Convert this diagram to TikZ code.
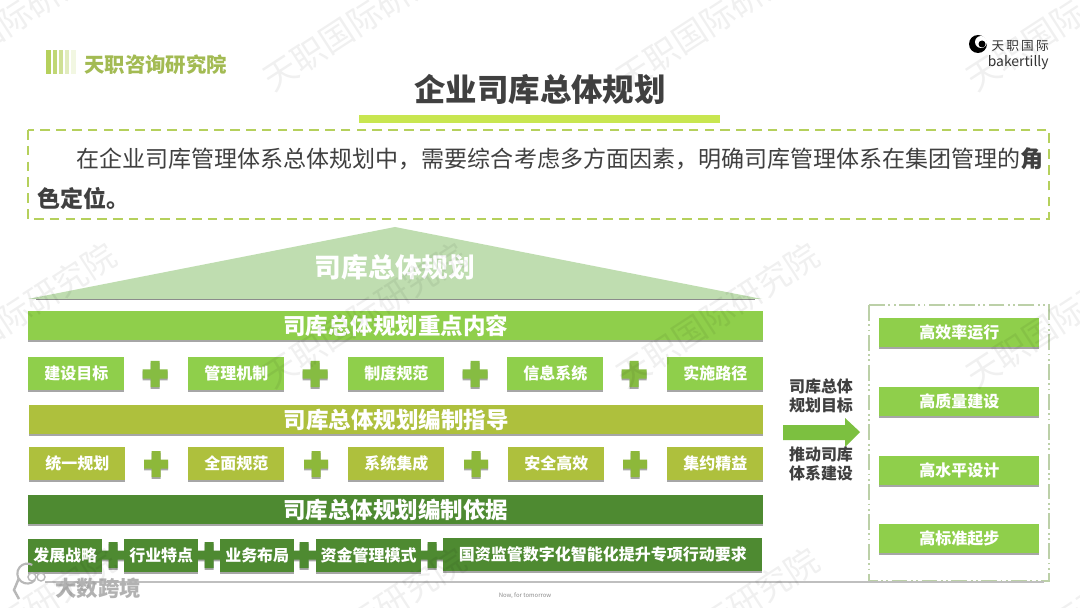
\documentclass[tikz,border=0pt]{standalone}
\usepackage{fontspec}
\setmainfont{Noto Sans CJK SC}
\usetikzlibrary{shadows}

\definecolor{barlight}{HTML}{8FCF4B}
\definecolor{barolive}{HTML}{AEC03D}
\definecolor{bardark}{HTML}{4E8A31}
\definecolor{pluslight}{HTML}{86BC42}
\definecolor{plusolive}{HTML}{8DB83A}
\definecolor{roofgreen}{HTML}{BFDDB0}
\definecolor{inktext}{HTML}{404040}
\definecolor{dashlime}{HTML}{B5D05C}
\definecolor{rulelime}{HTML}{C8E650}
\definecolor{arrowgreen}{HTML}{7CC040}
\definecolor{paneledge}{HTML}{BCD0A8}

\tikzset{
  softshadow/.style={drop shadow={shadow xshift=0pt,shadow yshift=-1.1pt,fill=black,opacity=.35}},
  bandbox/.style={softshadow,minimum height=16.5pt,inner sep=0pt,text=white,font=\fontsize{12.8}{14}\selectfont\bfseries},
  itembox/.style={softshadow,minimum height=18.5pt,inner sep=0pt,text=white,font=\fontsize{9.1}{11}\selectfont\bfseries},
  goalbox/.style={softshadow,fill=barlight,minimum width=91pt,minimum height=16.5pt,inner sep=0pt,text=white,font=\fontsize{9.1}{11}\selectfont\bfseries},
  sidelabel/.style={align=center,text=inktext,font=\fontsize{9.1}{10.9}\selectfont\bfseries},
  watermark/.style={rotate=33,text=black,opacity=.06,font=\fontsize{19}{21}\selectfont}
}

% plus sign: x, y, half size x, half size y, half arm, colour
\newcommand{\plusmark}[6]{
  \path[fill=#6,softshadow,shift={(#1,#2)}] (-#5,-#4) -- (#5,-#4) -- (#5,-#5) -- (#3,-#5) -- (#3,#5) -- (#5,#5)
    -- (#5,#4) -- (-#5,#4) -- (-#5,#5) -- (-#3,#5) -- (-#3,-#5) -- (-#5,-#5) -- cycle;
}

\begin{document}
\begin{tikzpicture}[x=0.02cm,y=-0.02cm]

\useasboundingbox (0,0) rectangle (1080,608);
\clip (0,0) rectangle (1080,608);
\fill[white] (0,0) rectangle (1080,608);

% Header, left mark
\fill[dashlime] (46,50) rectangle (51,74);
\fill[dashlime!85] (53,50) rectangle (57,74);
\fill[dashlime!65] (59,50) rectangle (63,74);
\fill[dashlime!40] (65,50) rectangle (69,74);
\fill[dashlime!18] (71,50) rectangle (76,74);
\node[anchor=west,inner sep=0pt,text=dashlime!90!black,font=\fontsize{11.6}{13}\selectfont\bfseries] (brandname) at (84,65) {天职咨询研究院};

% Header, right mark
\fill[black] (978,44) circle (9);
\fill[white] (981,42) circle (6);
\fill[black] (982,44) circle (3.5);
\node[anchor=east,inner sep=0pt,text=black!80,font=\fontsize{7.2}{9}\selectfont] (firmname) at (1049,46) {天\,职\,国\,际};
\node[anchor=east,inner sep=0pt,text=black!80,font=\fontsize{7.9}{10}\selectfont] (firmlatin) at (1049,63) {bakertilly};

% Title and rule
\node[inner sep=0pt,text=inktext,font=\fontsize{17.9}{20}\selectfont\bfseries] (title) at (540,89) {企业司库总体规划};
\fill[rulelime] (359,115) rectangle (720,123);

% Intro box
\draw[dashlime,line width=1pt,dash pattern=on 5.5pt off 3.5pt] (28,130) rectangle (1049,219);
\node[anchor=north west,inner sep=0pt,align=left,text=inktext,font=\fontsize{13.1}{23.1}\selectfont] (intro) at (37,147)
  {\hspace*{22.4pt}在企业司库管理体系总体规划中，需要综合考虑多方面因素，明确司库管理体系在集团管理的\textbf{角}\\\textbf{色定位。}};

% Roof
\fill[roofgreen] (395,227) -- (762,299) -- (28,299) -- cycle;
\draw[black!45,line width=.8pt] (36,299.5) -- (755,299.5);
\node[inner sep=0pt,text=white,font=\fontsize{15.2}{17}\selectfont\bfseries] (roof) at (395,267) {司库总体规划};

% Focus row
\node[bandbox,fill=barlight,minimum width=418pt,anchor=north west] (focus) at (28,311) {司库总体规划重点内容};
\node[itembox,fill=barlight,minimum width=54.6pt,anchor=north west] (goalitem) at (28,357) {建设目标};
\node[itembox,fill=barlight,minimum width=54.6pt,anchor=north west] (mechitem) at (188,357) {管理机制};
\node[itembox,fill=barlight,minimum width=54.6pt,anchor=north west] (ruleitem) at (348,357) {制度规范};
\node[itembox,fill=barlight,minimum width=54.6pt,anchor=north west] (infoitem) at (507,357) {信息系统};
\node[itembox,fill=barlight,minimum width=54.6pt,anchor=north west] (pathitem) at (667,357) {实施路径};
\plusmark{155}{374}{12.5}{13}{4.5}{pluslight}
\plusmark{315}{374}{12.5}{13}{4.5}{pluslight}
\plusmark{475}{374}{12.5}{13}{4.5}{pluslight}
\plusmark{634}{374}{12.5}{13}{4.5}{pluslight}

% Guide row
\node[bandbox,fill=barolive,minimum width=417.5pt,anchor=north west] (guide) at (29,405) {司库总体规划编制指导};
\node[itembox,fill=barolive,minimum width=54.6pt,anchor=north west] (unifyitem) at (29,447) {统一规划};
\node[itembox,fill=barolive,minimum width=54.6pt,anchor=north west] (fullitem) at (188,447) {全面规范};
\node[itembox,fill=barolive,minimum width=54.6pt,anchor=north west] (systemitem) at (348,447) {系统集成};
\node[itembox,fill=barolive,minimum width=54.6pt,anchor=north west] (safeitem) at (508,447) {安全高效};
\node[itembox,fill=barolive,minimum width=54.6pt,anchor=north west] (leanitem) at (667,447) {集约精益};
\plusmark{156}{464}{12}{13}{4.5}{plusolive}
\plusmark{316}{464}{12}{13}{4.5}{plusolive}
\plusmark{476}{464}{12}{13}{4.5}{plusolive}
\plusmark{635}{464}{12}{13}{4.5}{plusolive}

% Basis row
\node[bandbox,fill=bardark,minimum width=418pt,anchor=north west] (basis) at (28,495) {司库总体规划编制依据};
\plusmark{113}{555}{14}{13}{4.5}{bardark}
\plusmark{209}{555}{14}{13}{4.5}{bardark}
\plusmark{304}{555}{14}{13}{4.5}{bardark}
\plusmark{432}{555}{14}{13}{4.5}{bardark}
\node[itembox,fill=bardark,minimum width=42pt,anchor=north west] (stratitem) at (28,539) {发展战略};
\node[itembox,fill=bardark,minimum width=42pt,anchor=north west] (tradeitem) at (124,539) {行业特点};
\node[itembox,fill=bardark,minimum width=42pt,anchor=north west] (layoutitem) at (220,539) {业务布局};
\node[itembox,fill=bardark,minimum width=59.5pt,anchor=north west] (fundsitem) at (316,539) {资金管理模式};
\node[itembox,fill=bardark,minimum width=181.6pt,anchor=north west] (stateitem) at (443,538) {国资监管数字化智能化提升专项行动要求};

% Middle arrow and labels
\node[sidelabel] (targetlabel) at (821,396) {司库总体\\规划目标};
\fill[arrowgreen] (783,425) -- (845,425) -- (845,418) -- (860,432) -- (845,447) -- (845,440) -- (783,440) -- cycle;
\node[sidelabel] (pushlabel) at (821,464) {推动司库\\体系建设};

% Goal panel
\draw[paneledge,line width=.8pt,dash pattern=on 9pt off 2pt on 1pt off 2pt on 1pt off 2pt] (869,305) rectangle (1049,581);
\node[goalbox,anchor=north west] (rungoal) at (879,318) {高效率运行};
\node[goalbox,anchor=north west] (qualgoal) at (879,387) {高质量建设};
\node[goalbox,anchor=north west] (designgoal) at (879,456) {高水平设计};
\node[goalbox,anchor=north west] (startgoal) at (879,524) {高标准起步};

% Footer
\draw[black!25,line width=.6pt] (45,582) -- (1044,582);
\node[inner sep=0pt,text=black!45,font=\fontsize{3.4}{4}\selectfont] (slogan) at (525,596) {Now, for tomorrow};
\draw[black!28,line width=1.4pt] (19,578) -- (14,590) -- (19,599);
\draw[black!28,line width=1.2pt] (35,580) arc (40:300:10);
\draw[black!28,line width=.8pt] (32,577) circle (4);
\draw[black!28,line width=.8pt] (41,577) circle (4);
\node[anchor=west,inner sep=0pt,text=black!30,font=\fontsize{12.2}{14}\selectfont\bfseries] (stamp) at (55,588) {大数跨境};

% Watermarks
\node[watermark] (markA) at (15,18) {天职国际研究院};
\node[watermark] (markB) at (365,18) {天职国际研究院};
\node[watermark] (markC) at (718,18) {天职国际研究院};
\node[watermark] (markD) at (1068,18) {天职国际研究院};
\node[watermark] (markE) at (15,315) {天职国际研究院};
\node[watermark] (markF) at (365,315) {天职国际研究院};
\node[watermark] (markG) at (718,315) {天职国际研究院};
\node[watermark] (markH) at (1068,315) {天职国际研究院};
\node[watermark] (markI) at (15,620) {天职国际研究院};
\node[watermark] (markJ) at (365,620) {天职国际研究院};
\node[watermark] (markK) at (718,620) {天职国际研究院};
\node[watermark] (markL) at (1068,620) {天职国际研究院};

\end{tikzpicture}
\end{document}
